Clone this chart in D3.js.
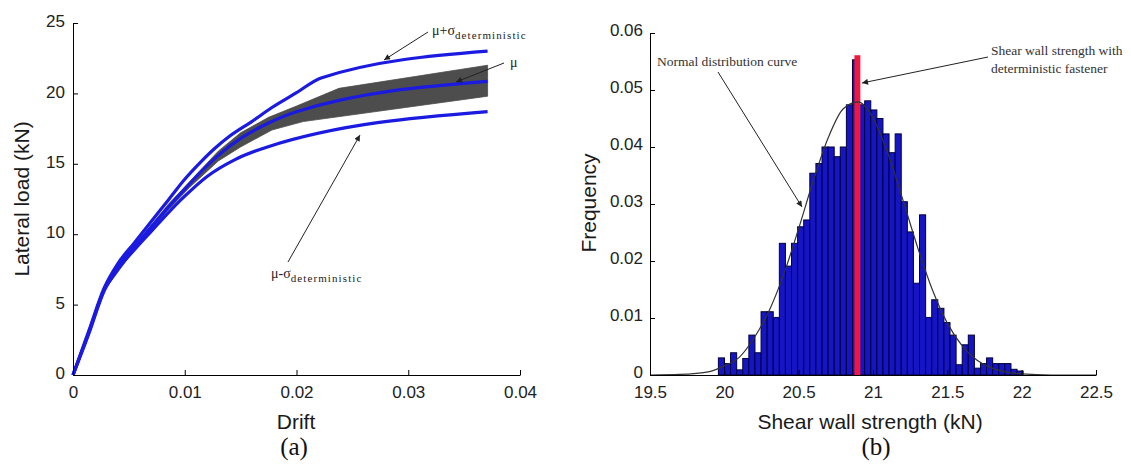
<!DOCTYPE html>
<html><head><meta charset="utf-8">
<script src="https://cdn.jsdelivr.net/npm/d3@7"></script>
<style>body{margin:0;background:#fff}svg{display:block}</style>
</head><body>
<svg id="c" width="1131" height="465"></svg>
<script>
// ---------- Panel (a): load-drift curves ----------
const upperDrift = [0,0.0014,0.0028,0.004,0.0055,0.007,0.0085,0.010,0.0114,0.0127,0.014,0.016,0.0178,0.020,0.0222,0.0371];
const upperLoad  = [0,3.1,6.2,7.9,9.4,10.9,12.4,13.9,15.1,16.1,16.95,18.0,19.0,20.05,21.1,23.0];
const meanDrift  = [0,0.0014,0.0028,0.004,0.0055,0.007,0.0085,0.010,0.0114,0.013,0.015,0.0175,0.020,0.0371];
const meanLoad   = [0,3.0,6.1,7.7,9.1,10.5,11.9,13.2,14.4,15.6,16.8,17.9,18.7,20.85];
const lowerDrift = [0,0.0014,0.0028,0.004,0.0055,0.007,0.0085,0.010,0.012,0.0145,0.0174,0.0371];
const lowerLoad  = [0,2.9,6.0,7.5,8.9,10.2,11.5,12.7,14.1,15.3,16.2,18.7];
const bandTopDrift = [0,0.0028,0.0055,0.0085,0.0104,0.013,0.015,0.0175,0.020,0.0238,0.0371];
const bandTopLoad  = [0,6.15,9.2,12.1,13.7,15.9,17.2,18.3,19.1,20.36,22.0];
const bandBotDrift = [0,0.0028,0.0055,0.0085,0.0104,0.013,0.015,0.0178,0.0206,0.0371];
const bandBotLoad  = [0,6.0,8.9,11.7,13.3,15.2,16.2,17.4,18.0,19.8];
const xTicksA = [0,0.01,0.02,0.03,0.04];
const xTickLabelsA = ["0","0.01","0.02","0.03","0.04"];
const yTicksA = [0,5,10,15,20,25];
const yTickLabelsA = ["0","5","10","15","20","25"];

// ---------- Panel (b): histogram ----------
const binMin = 19.96, binMax = 22.01;
const binFreq = [0.0030,0.0020,0.0039,0.0009,0.0029,0.0070,0.0039,0.0111,0.0111,0.0101,
                 0.0231,0.0191,0.0231,0.0260,0.0272,0.0354,0.0371,0.0400,0.0400,0.0383,
                 0.0400,0.0474,0.0553,0.0474,0.0481,0.0465,0.0450,0.0423,0.0390,0.0423,
                 0.0304,0.0251,0.0161,0.0281,0.0101,0.0132,0.0117,0.0092,0.0070,0.0018,
                 0.0053,0.0070,0.0012,0.0020,0.0030,0.0020,0.0020,0.0020,0.0010,0.0007];
const detStrength = 20.895, detFreq = 0.0561, detWidth = 0.04;
const normX = [19.5,19.7,19.9,20.0,20.1,20.2,20.3,20.4,20.5,20.6,20.7,20.8,20.9,21.0,21.1,21.2,21.3,21.4,21.5,21.6,21.7,21.8,21.9,22.0,22.2,22.5];
const normY = [0.0000,0.0001,0.0006,0.0016,0.0031,0.0065,0.0112,0.0177,0.0257,0.0342,0.0417,0.0467,0.0479,0.0451,0.0389,0.0308,0.0224,0.0149,0.0091,0.0051,0.0026,0.0012,0.0005,0.0002,0.0000,0.0000];
const xTicksB = [19.5,20,20.5,21,21.5,22,22.5];
const xTickLabelsB = ["19.5","20","20.5","21","21.5","22","22.5"];
const yTicksB = [0,0.01,0.02,0.03,0.04,0.05,0.06];
const yTickLabelsB = ["0","0.01","0.02","0.03","0.04","0.05","0.06"];

// ---------- drawing ----------
const svg = d3.select("#c");
const blue = "#1a1ae0", tickFont = "'Liberation Sans', Arial, sans-serif", serif = "'Liberation Serif','Times New Roman',serif";

const defs = svg.append("defs");
defs.append("marker").attr("id","ah").attr("viewBox","0 0 10 10").attr("refX",10).attr("refY",5)
  .attr("markerWidth",8).attr("markerHeight",6).attr("orient","auto").attr("markerUnits","userSpaceOnUse")
  .append("path").attr("d","M0,0L10,5L0,10z").attr("fill","#222");

function styleAxis(g){
  g.select(".domain").attr("stroke","#000").attr("stroke-width",1);
  g.selectAll(".tick line").attr("stroke","#000");
  g.selectAll(".tick text").attr("fill","#222").style("font-family",tickFont).style("font-size","17px");
}

// Panel a scales
const xA = d3.scaleLinear([0,0.04],[73,520]);
const yA = d3.scaleLinear([0,25],[375,23]);
const gA = svg.append("g");

const bandPts = bandTopDrift.map((d,i)=>[d,bandTopLoad[i]])
  .concat(bandBotDrift.map((d,i)=>[d,bandBotLoad[i]]).reverse());
gA.append("path").attr("d", d3.line().x(p=>xA(p[0])).y(p=>yA(p[1])).curve(d3.curveLinearClosed)(bandPts))
  .attr("fill","#4d4d4d").attr("stroke","#4d4d4d").attr("stroke-width",0.8);

const lineA = d3.line().x(p=>xA(p[0])).y(p=>yA(p[1])).curve(d3.curveMonotoneX);
[[upperDrift,upperLoad],[meanDrift,meanLoad],[lowerDrift,lowerLoad]].forEach(([dx,ly])=>{
  gA.append("path").attr("d", lineA(dx.map((d,i)=>[d,ly[i]])))
    .attr("fill","none").attr("stroke",blue).attr("stroke-width",3.2).attr("stroke-linejoin","round");
});

gA.append("g").attr("transform","translate(0,375)")
  .call(d3.axisBottom(xA).tickValues(xTicksA).tickFormat((d,i)=>xTickLabelsA[i]).tickSizeInner(-5).tickSizeOuter(0).tickPadding(11))
  .call(styleAxis);
gA.append("g").attr("transform","translate(73,0)")
  .call(d3.axisLeft(yA).tickValues(yTicksA).tickFormat((d,i)=>yTickLabelsA[i]).tickSizeInner(-5).tickSizeOuter(0).tickPadding(8))
  .call(styleAxis)
  .call(g=>g.selectAll(".tick text").attr("dy","0.22em"));

gA.append("text").attr("x",296).attr("y",429).attr("text-anchor","middle")
  .style("font-family",tickFont).style("font-size","21px").attr("fill","#1a1a1a").text("Drift");
gA.append("text").attr("transform","translate(29,199) rotate(-90)").attr("text-anchor","middle")
  .style("font-family",tickFont).style("font-size","21px").attr("fill","#1a1a1a").text("Lateral load (kN)");
gA.append("text").attr("x",294).attr("y",455).attr("text-anchor","middle")
  .style("font-family",serif).style("font-size","25px").attr("fill","#111").text("(a)");

function muSigma(g,x,y,main){
  const t = g.append("text").attr("x",x).attr("y",y).style("font-family",serif).attr("fill","#222");
  t.append("tspan").style("font-size","14px").text(main);
  t.append("tspan").attr("dy",4).style("font-size","11px").style("letter-spacing","1.1px").text("deterministic");
}
muSigma(gA,432,35,"μ+σ");
muSigma(gA,271,278,"μ-σ");
gA.append("text").attr("x",510).attr("y",67).style("font-family",serif).style("font-size","14px").attr("fill","#222").text("μ");

function arrow(g,x1,y1,x2,y2){
  g.append("line").attr("x1",x1).attr("y1",y1).attr("x2",x2).attr("y2",y2)
   .attr("stroke","#222").attr("stroke-width",1).attr("marker-end","url(#ah)");
}
arrow(gA,428,32,384,60);
arrow(gA,504,63,456,82);
arrow(gA,288,262,360,135);

// Panel b scales
const xB = d3.scaleLinear([19.5,22.5],[650,1096]);
const yB = d3.scaleLinear([0,0.06],[375,33]);
const gB = svg.append("g");
const binW = (binMax-binMin)/binFreq.length;
gB.selectAll("rect.bin").data(binFreq).join("rect").attr("class","bin")
  .attr("x",(d,i)=>xB(binMin+i*binW)).attr("width",(d,i)=>xB(binMin+(i+1)*binW)-xB(binMin+i*binW))
  .attr("y",d=>yB(d)).attr("height",d=>yB(0)-yB(d))
  .attr("fill","#1515c6").attr("stroke","#00003a").attr("stroke-width",1);
gB.append("rect").attr("x",xB(detStrength-detWidth/2)).attr("width",xB(detStrength+detWidth/2)-xB(detStrength-detWidth/2))
  .attr("y",yB(detFreq)).attr("height",yB(0)-yB(detFreq)).attr("fill","#f0173f");

gB.append("path").attr("d", d3.line().x((d,i)=>xB(normX[i])).y(d=>yB(d)).curve(d3.curveMonotoneX)(normY))
  .attr("fill","none").attr("stroke","#333").attr("stroke-width",1.2);

gB.append("g").attr("transform","translate(0,375)")
  .call(d3.axisBottom(xB).tickValues(xTicksB).tickFormat((d,i)=>xTickLabelsB[i]).tickSizeInner(-5).tickSizeOuter(0).tickPadding(11))
  .call(styleAxis);
gB.append("g").attr("transform","translate(650,0)")
  .call(d3.axisLeft(yB).tickValues(yTicksB).tickFormat((d,i)=>yTickLabelsB[i]).tickSizeInner(-5).tickSizeOuter(0).tickPadding(7))
  .call(styleAxis)
  .call(g=>g.selectAll(".tick text").attr("dy","0.15em"));

gB.append("text").attr("x",870).attr("y",429).attr("text-anchor","middle")
  .style("font-family",tickFont).style("font-size","21px").attr("fill","#1a1a1a").text("Shear wall strength (kN)");
gB.append("text").attr("transform","translate(596,203) rotate(-90)").attr("text-anchor","middle")
  .style("font-family",tickFont).style("font-size","21px").attr("fill","#1a1a1a").text("Frequency");
gB.append("text").attr("x",876).attr("y",455).attr("text-anchor","middle")
  .style("font-family",serif).style("font-size","25px").attr("fill","#111").text("(b)");

gB.append("text").attr("x",657).attr("y",66).style("font-family",serif).style("font-size","13.5px").attr("fill","#333").text("Normal distribution curve");
gB.append("text").attr("x",991).attr("y",55).style("font-family",serif).style("font-size","13.5px").attr("fill","#333").text("Shear wall strength with");
gB.append("text").attr("x",991).attr("y",73).style("font-family",serif).style("font-size","13.5px").attr("fill","#333").text("deterministic fastener");
arrow(gB,718,72,802,207);
arrow(gB,988,57,862,83);
</script>
</body></html>
